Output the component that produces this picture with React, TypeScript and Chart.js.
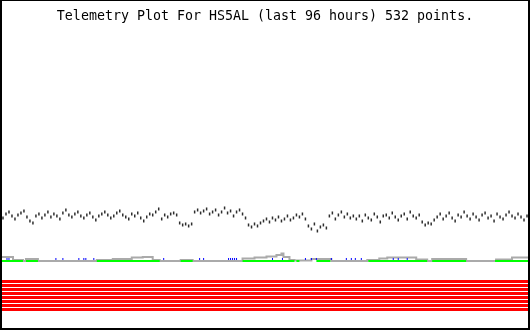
import React, { useEffect, useRef } from 'react';
import { Chart, registerables } from 'chart.js';

Chart.register(...registerables);

const TITLE = 'Telemetry Plot For HS5AL (last 96 hours) 532 points.';
const LAST_INDEX = 531;
const SAMPLE_STEP = 3;

// channel 1 (raw counts), one value every SAMPLE_STEP samples
const channel1 = [
  110, 112, 116, 118, 114, 111, 115, 117, 119, 113,
  109, 107, 114, 116, 112, 115, 118, 113, 116, 114,
  111, 117, 120, 115, 113, 116, 118, 114, 112, 115,
  117, 113, 110, 114, 116, 118, 115, 112, 114, 117,
  119, 115, 113, 111, 116, 114, 117, 112, 109, 113,
  116, 115, 118, 121, 111, 115, 113, 116, 117,
  115, 107, 105, 106, 104, 106,
  118, 120,
  117, 119, 121, 116, 118, 120, 115, 118, 122, 117, 119, 114, 118, 120, 116,
  112,
  105, 103, 106, 104, 107,
  109, 111, 108, 112, 110, 113, 109, 111, 114, 110, 112, 115,
  113, 116, 111,
  104, 101, 106, 99, 103, 105, 102,
  114, 117, 111, 115, 118, 113, 116, 112, 114,
  111, 114, 109, 115, 112, 110, 116, 113, 108, 114,
  115, 112, 117, 113, 110, 114, 116, 111, 118, 114, 112, 115,
  108, 105, 107, 106, 110,
  113, 116, 111, 114, 117, 112, 109, 115, 113, 118, 114, 111, 116, 113, 110, 115,
  117, 112, 114, 109, 116, 113, 111, 115, 118, 114, 112, 116, 113, 110, 114, 112,
];

// channel 2 (gray, stepped): sample index where value changes, and the value
const channel2X = [0, 13, 23, 26, 38, 97, 113, 132, 143, 153, 160, 181, 193, 243, 255, 267, 277, 282, 284, 290, 295, 312, 332, 368, 380, 388, 417, 428, 433, 467, 497, 513, 531];
const channel2V = [73, 70, 69, 71, 69, 70, 71, 72.5, 73, 70, 69, 70, 69, 71.5, 72.5, 73.5, 75, 76.5, 73, 70, 69.5, 71, 69, 70, 71.5, 72.5, 70.5, 69, 71, 69, 70.5, 72.5, 72.5];

// channel 3 (green): runs of samples where it is present
const channel3Runs = [[1, 23], [26, 38], [97, 160], [181, 193], [243, 295], [297, 300], [317, 331], [369, 428], [433, 467], [496, 531]];
const CHANNEL3_LEVEL = 69;

// channel 4 (blue): isolated samples
const channel4X = [7, 9, 56, 63, 79, 84, 86, 94, 164, 200, 204, 229, 231, 233, 235, 237, 273, 283, 306, 312, 317, 332, 347, 352, 356, 362, 394, 399, 408];
const CHANNEL4_LEVEL = 71;

// status bits (all set over the window)
const statusBits = [8, 7, 6, 5, 4, 3, 2, 1];

const framePlugin = {
  id: 'frame',
  beforeDraw(chart: any) {
    const { ctx, width, height } = chart;
    ctx.save();
    ctx.fillStyle = '#ffffff';
    ctx.fillRect(0, 0, width, height);
    ctx.restore();
  },
  afterDraw(chart: any) {
    const { ctx, width, height } = chart;
    ctx.save();
    ctx.fillStyle = '#000000';
    ctx.fillRect(0, 0, width, 1);
    ctx.fillRect(0, 0, 2, height);
    ctx.fillRect(width - 2, 0, 2, height);
    ctx.fillRect(0, height - 2, width, 2);
    ctx.restore();
  },
};

export default function App() {
  const ref = useRef<HTMLCanvasElement | null>(null);

  useEffect(() => {
    document.body.style.margin = '0';
    const canvas = ref.current;
    if (!canvas) return;

    const ch1 = channel1.map((v, i) => ({ x: i * SAMPLE_STEP, y: v }));
    const ch2 = channel2X.map((x, i) => ({ x, y: channel2V[i] }));
    const ch3: any[] = [];
    channel3Runs.forEach(([a, b], k) => {
      if (k > 0) ch3.push({ x: a - 0.5, y: null });
      ch3.push({ x: a, y: CHANNEL3_LEVEL });
      ch3.push({ x: b, y: CHANNEL3_LEVEL });
    });
    const ch4 = channel4X.map((x) => ({ x, y: CHANNEL4_LEVEL }));

    const bitSets = statusBits.map((lvl, k) => ({
      label: 'bit' + k,
      yAxisID: 'yBits',
      data: [{ x: 0, y: lvl }, { x: LAST_INDEX, y: lvl }],
      showLine: true,
      borderColor: '#ff0000',
      borderWidth: 3,
      pointRadius: 0,
      order: 4,
    }));

    const chart = new Chart(canvas, {
      type: 'scatter',
      data: {
        datasets: [
          {
            label: 'ch4',
            data: ch4,
            showLine: false,
            pointStyle: 'line',
            rotation: 90,
            pointRadius: 1,
            borderWidth: 1,
            borderColor: '#0000ff',
            backgroundColor: '#0000ff',
            order: 0,
          },
          {
            label: 'ch3',
            data: ch3,
            showLine: true,
            spanGaps: false,
            borderColor: '#00ff00',
            borderWidth: 2,
            pointRadius: 0,
            order: 1,
          },
          {
            label: 'ch2',
            data: ch2,
            showLine: true,
            stepped: true,
            borderColor: '#aaaaaa',
            borderWidth: 2,
            pointRadius: 0,
            order: 2,
          },
          {
            label: 'ch1',
            data: ch1,
            showLine: false,
            pointStyle: 'line',
            rotation: 90,
            pointRadius: 1.5,
            borderWidth: 1.5,
            borderColor: '#2e2e2e',
            backgroundColor: '#2e2e2e',
            order: 3,
          },
          ...bitSets,
        ] as any,
      },
      options: {
        animation: false,
        responsive: false,
        devicePixelRatio: 1,
        layout: { padding: 0, autoPadding: false },
        events: [],
        scales: {
          x: { type: 'linear', display: false, min: 0, max: LAST_INDEX },
          y: { type: 'linear', display: false, min: 0, max: 300 },
          yBits: { type: 'linear', display: false, min: -4.125, max: 70.875 },
        },
        plugins: {
          legend: { display: false },
          tooltip: { enabled: false },
          title: {
            display: true,
            text: TITLE,
            color: '#000000',
            font: { family: "'DejaVu Sans Mono', monospace", size: 13.3, weight: 'normal', lineHeight: 1.2 },
            padding: { top: 9, bottom: 5 },
          },
        },
      } as any,
      plugins: [framePlugin],
    });

    return () => chart.destroy();
  }, []);

  return (
    <div style={{ width: 530, height: 330 }}>
      <canvas ref={ref} width={530} height={330} />
    </div>
  );
}
